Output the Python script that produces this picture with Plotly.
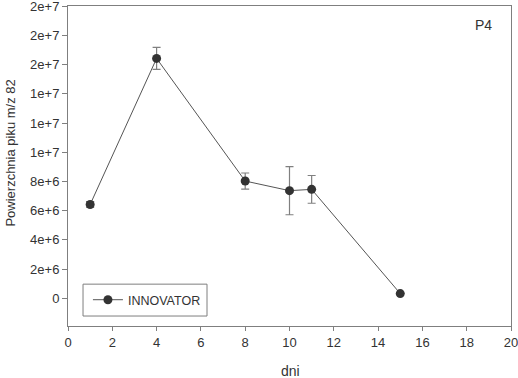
import plotly.graph_objects as go

days = [1, 4, 8, 10, 11, 15]
area = [6.42e6, 16.43e6, 8.03e6, 7.37e6, 7.46e6, 0.32e6]
err = [0.2e6, 0.75e6, 0.55e6, 1.65e6, 0.95e6, 0.0]
series_name = "INNOVATOR"

y_tickvals = [0, 2e6, 4e6, 6e6, 8e6, 10e6, 12e6, 14e6, 16e6, 18e6, 20e6]
y_ticktext = ["0", "2e+6", "4e+6", "6e+6", "8e+6", "1e+7", "1e+7", "1e+7", "2e+7", "2e+7", "2e+7"]
x_tickvals = list(range(0, 21, 2))

txt_col = "#333333"
font = dict(family="Liberation Sans, Arial, sans-serif", size=13, color=txt_col)
axis_col = "#7f7f7f"

fig = go.Figure()
fig.add_trace(go.Scatter(
    x=days, y=area, name=series_name, mode="lines+markers",
    line=dict(color="#555555", width=1),
    marker=dict(color="#333333", size=9),
    error_y=dict(type="data", array=err, visible=True, color="#808080", thickness=1.2, width=4),
))

fig.update_layout(
    width=518, height=378,
    margin=dict(l=68, r=7, t=6, b=52),
    paper_bgcolor="white", plot_bgcolor="white",
    font=font,
    showlegend=True,
    legend=dict(x=0.045, y=0.081, xanchor="left", yanchor="middle",
                bgcolor="rgba(0,0,0,0)", borderwidth=0,
                font=dict(size=12.5, color=txt_col), itemwidth=30,
                tracegroupgap=0),
    shapes=[dict(type="rect", xref="paper", yref="paper",
                 x0=0.0339, x1=0.3138, y0=0.0312, y1=0.1308,
                 line=dict(color="#7f7f7f", width=1))],
    xaxis=dict(range=[0, 20], tickvals=x_tickvals, showgrid=False, zeroline=False,
               showline=True, linecolor=axis_col, linewidth=1, mirror=True,
               ticks="outside", ticklen=4, tickcolor=axis_col, automargin=False,
               ticklabeloverflow="allow", tickfont=dict(size=13)),
    yaxis=dict(range=[-1.9e6, 20.02e6], tickvals=y_tickvals, ticktext=y_ticktext,
               showgrid=False, zeroline=False,
               showline=True, linecolor=axis_col, linewidth=1, mirror=True,
               ticks="outside", ticklen=5, tickcolor=axis_col, automargin=False,
               ticklabeloverflow="allow", tickfont=dict(size=13)),
    annotations=[
        dict(text="P4", x=0.938, y=0.941, xref="paper", yref="paper",
             xanchor="center", yanchor="middle",
             showarrow=False, font=dict(size=14, color=txt_col)),
        dict(text="dni", x=0.502, y=(326 - 371) / 320, xref="paper", yref="paper",
             xanchor="center", yanchor="middle", showarrow=False,
             font=dict(size=14, color=txt_col)),
        dict(text="Powierzchnia piku m/z 82", xref="paper", yref="paper",
             x=-0.13, y=0.54, xanchor="center", yanchor="middle", textangle=-90,
             showarrow=False, font=dict(size=13, color=txt_col)),
    ],
)

fig.write_html("out.html", config={"displayModeBar": False},
               post_script="document.body.style.margin='0';document.body.style.overflow='hidden';")
